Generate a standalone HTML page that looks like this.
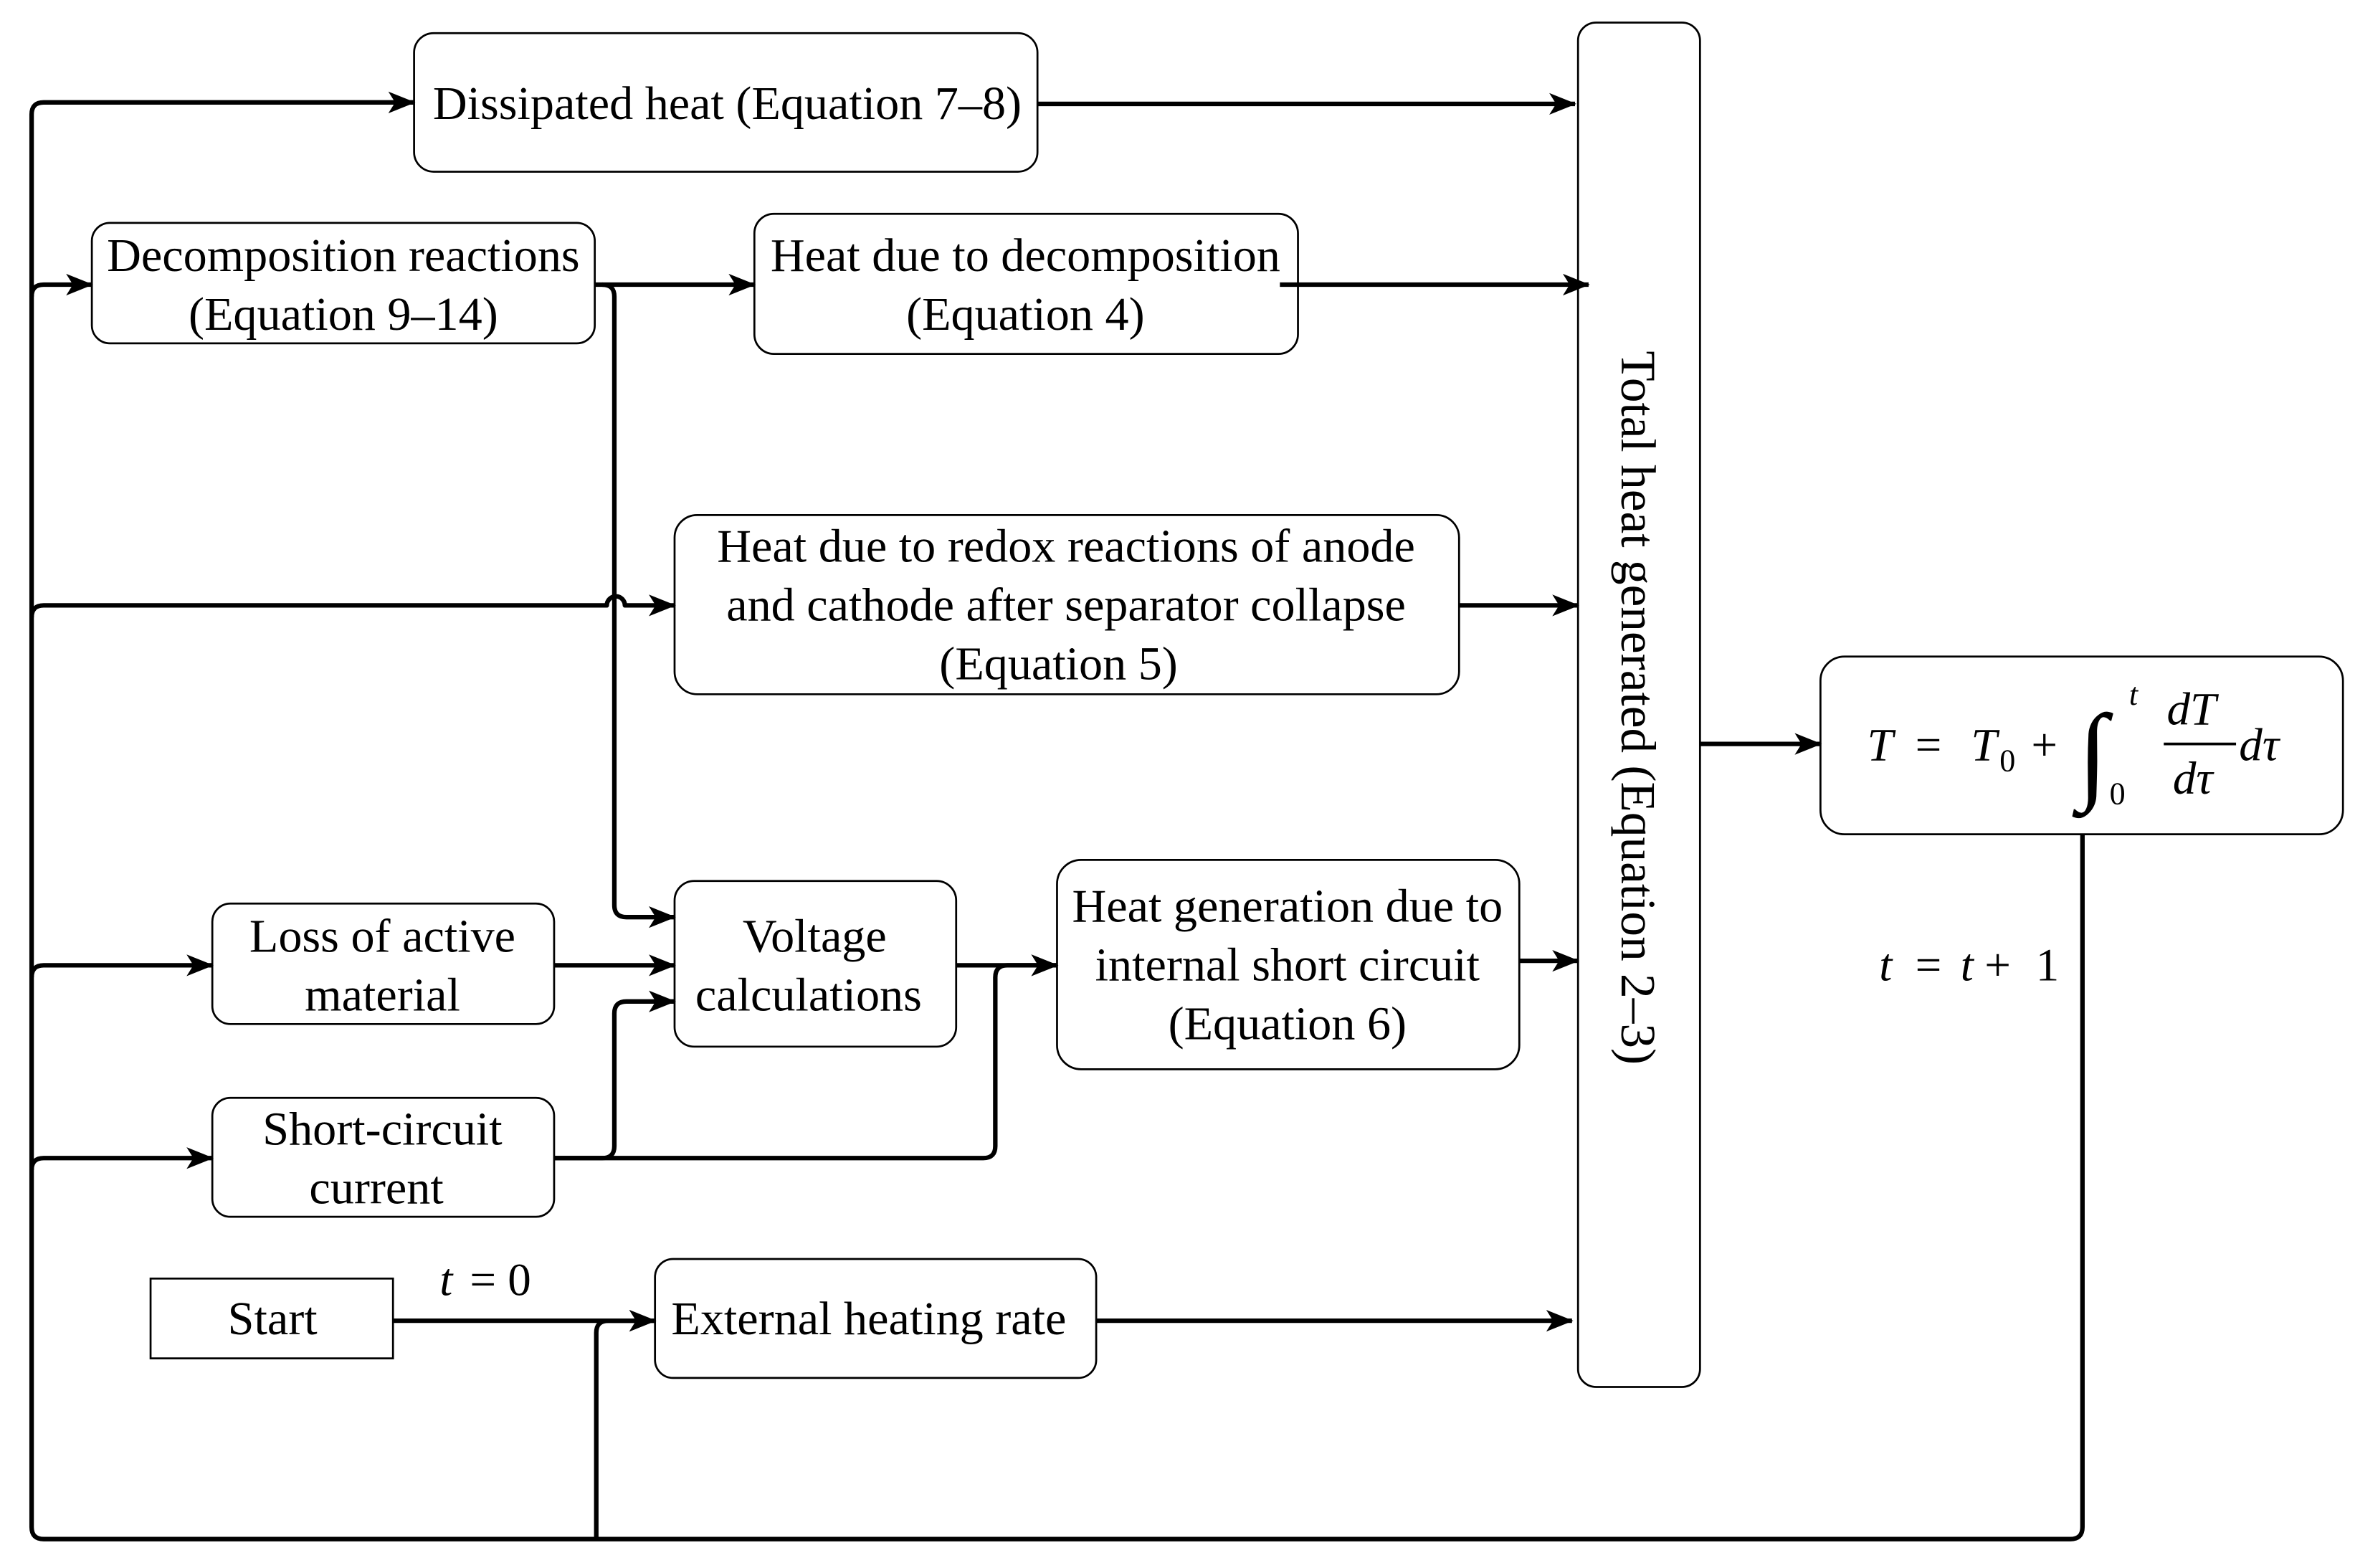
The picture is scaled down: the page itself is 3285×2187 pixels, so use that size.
<!DOCTYPE html>
<html><head><meta charset="utf-8"><style>
html,body{margin:0;padding:0;background:#fff;}
svg{display:block;}
text{font-family:"Liberation Serif",serif;fill:#000;}
</style></head><body>
<svg width="3285" height="2187" viewBox="0 0 1564 1041.2" preserveAspectRatio="none" xmlns="http://www.w3.org/2000/svg">
<defs>
<marker id="a" viewBox="0 0 20 16" refX="19" refY="8" markerWidth="18" markerHeight="15" markerUnits="userSpaceOnUse" orient="auto" overflow="visible">
<path d="M0,0 L20,8 L0,16 L5,8 Z" fill="#000"/>
</marker>
</defs>
<g fill="none" stroke="#000" stroke-width="1.3">
<rect x="275" y="22" width="414" height="92" rx="13"/>
<rect x="61" y="148" width="334" height="80" rx="12"/>
<rect x="501" y="142" width="361" height="93" rx="13"/>
<rect x="448" y="342" width="521" height="119" rx="15"/>
<rect x="448" y="585" width="187" height="110" rx="13"/>
<rect x="702" y="571" width="307" height="139" rx="16"/>
<rect x="141" y="600" width="227" height="80" rx="12"/>
<rect x="141" y="729" width="227" height="79" rx="12"/>
<rect x="100" y="849" width="161" height="53"/>
<rect x="435" y="836" width="293" height="79" rx="12"/>
<rect x="1048" y="15" width="81" height="906" rx="12"/>
<rect x="1209" y="436" width="347" height="118" rx="16"/>
</g>
<g fill="none" stroke="#000" stroke-width="3" stroke-linejoin="round">
<path d="M1383,554 L1383,1014 Q1383,1022 1375,1022 L29,1022 Q21,1022 21,1014 L21,76 Q21,68 29,68 L275,68" marker-end="url(#a)"/>
<path d="M21,197 Q21,189 29,189 L61,189" marker-end="url(#a)"/>
<path d="M21,410 Q21,402 29,402 L403,402 A6,6 0 0 1 415,402 L448,402" marker-end="url(#a)"/>
<path d="M21,649 Q21,641 29,641 L141,641" marker-end="url(#a)"/>
<path d="M21,777 Q21,769 29,769 L141,769" marker-end="url(#a)"/>
<path d="M396,1022 L396,885 Q396,877 404,877 L435,877" marker-end="url(#a)"/>
<path d="M261,877 L435,877" marker-end="url(#a)"/>
<path d="M395,189 L501,189" marker-end="url(#a)"/>
<path d="M400,189 Q408,189 408,197 L408,601 Q408,609 416,609 L448,609" marker-end="url(#a)"/>
<path d="M368,641 L448,641" marker-end="url(#a)"/>
<path d="M368,769 L400,769 Q408,769 408,761 L408,673 Q408,665 416,665 L448,665" marker-end="url(#a)"/>
<path d="M368,769 L653,769 Q661,769 661,761 L661,649 Q661,641 669,641 L702,641" marker-end="url(#a)"/>
<path d="M635,641 L702,641" marker-end="url(#a)"/>
<path d="M689,69 L1046,69" marker-end="url(#a)"/>
<path d="M850,189 L1055,189" marker-end="url(#a)"/>
<path d="M969,402 L1048,402" marker-end="url(#a)"/>
<path d="M1009,638 L1048,638" marker-end="url(#a)"/>
<path d="M728,877 L1044,877" marker-end="url(#a)"/>
<path d="M1129,494 L1209,494" marker-end="url(#a)"/>
</g>
<g font-size="31.5" text-anchor="middle">
<text x="483" y="79">Dissipated heat (Equation 7–8)</text>
<text x="228" y="180">Decomposition reactions</text>
<text x="228" y="219">(Equation 9–14)</text>
<text x="681" y="180">Heat due to decomposition</text>
<text x="681" y="219">(Equation 4)</text>
<text x="708" y="373">Heat due to redox reactions of anode</text>
<text x="708" y="412">and cathode after separator collapse</text>
<text x="703" y="451">(Equation 5)</text>
<text x="541" y="632">Voltage</text>
<text x="537" y="671">calculations</text>
<text x="855" y="612">Heat generation due to</text>
<text x="855" y="651">internal short circuit</text>
<text x="855" y="690">(Equation 6)</text>
<text x="254" y="632">Loss of active</text>
<text x="254" y="671">material</text>
<text x="254" y="760">Short-circuit</text>
<text x="250" y="799">current</text>
<text x="181" y="886">Start</text>
<text x="577" y="886">External heating rate</text>
<text transform="translate(1077,470) rotate(90)" x="0" y="0" font-size="33">Total heat generated (Equation 2–3)</text>
</g>
<g font-size="31">
<text x="292" y="860" font-style="italic">t</text><text x="312" y="860">= 0</text>
<text x="1248" y="651" font-style="italic">t</text><text x="1272" y="651">=</text><text x="1302" y="651" font-style="italic">t</text><text x="1318" y="651">+</text><text x="1352" y="651">1</text>
<text x="1240" y="505" font-style="italic">T</text>
<text x="1272" y="505">=</text>
<text x="1309" y="505" font-style="italic">T</text>
<text x="1328" y="512" font-size="21">0</text>
<text x="1349" y="505">+</text>
<text x="1380" y="524" font-size="72" font-style="italic">∫</text>
<text x="1414" y="468" font-size="21" font-style="italic">t</text>
<text x="1401" y="534" font-size="21">0</text>
<text x="1439" y="481" font-style="italic">dT</text>
<line x1="1437" y1="494" x2="1485" y2="494" stroke="#000" stroke-width="1.8"/>
<text x="1443" y="527" font-style="italic">dτ</text>
<text x="1487" y="505" font-style="italic">dτ</text>
</g>
</svg>
</body></html>
